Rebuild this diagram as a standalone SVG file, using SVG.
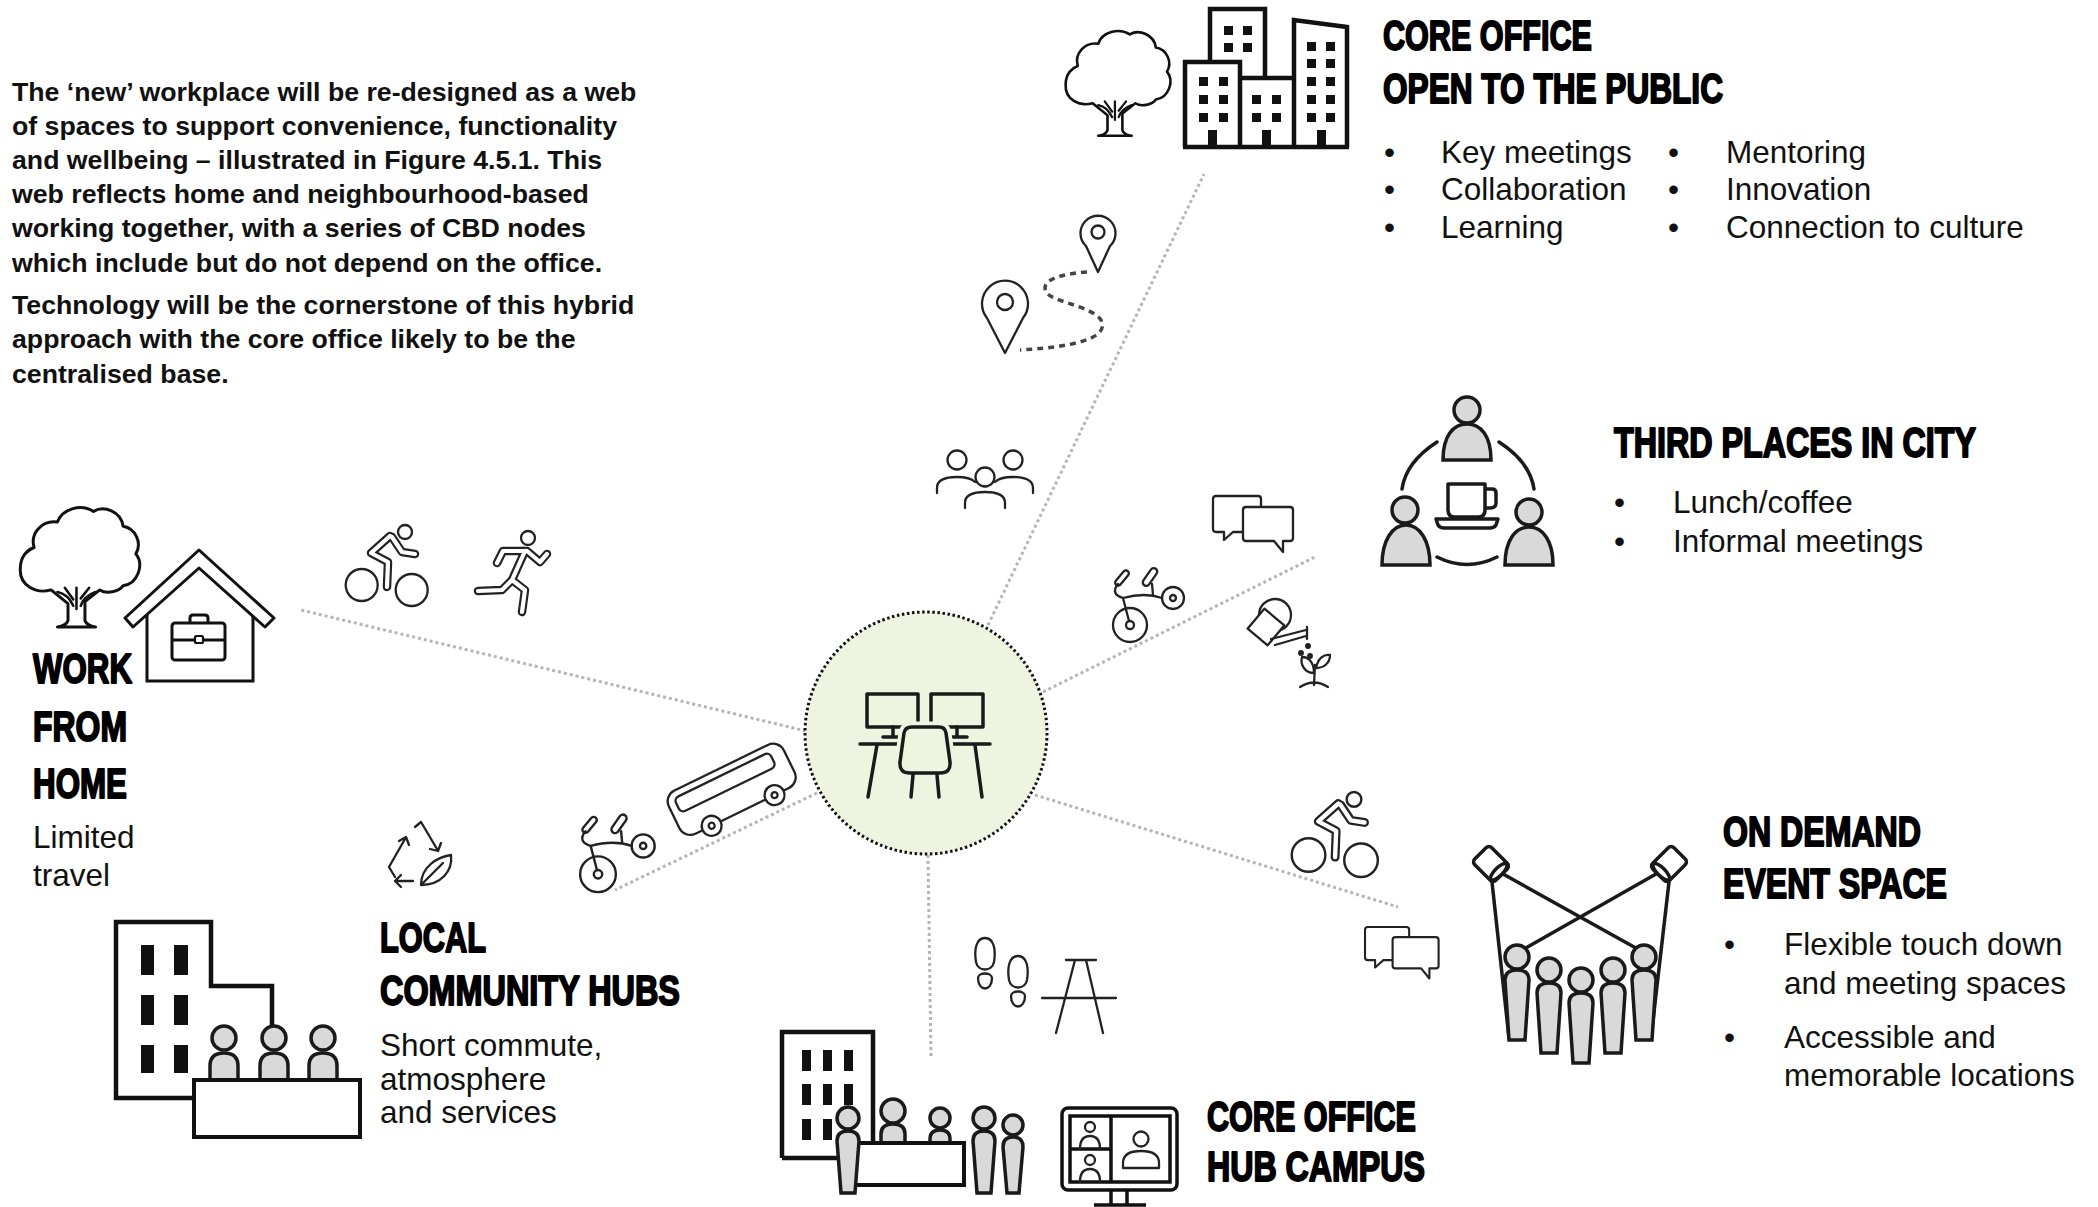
<svg xmlns="http://www.w3.org/2000/svg" width="2098" height="1207" viewBox="0 0 2098 1207">
  <style>
    .intro { font-family: "Liberation Sans", Arial, sans-serif; font-weight: bold; font-size: 26.7px; fill: #111; }
    .title { font-family: "Liberation Sans", Arial, sans-serif; font-weight: bold; font-size: 43px; fill: #000; stroke: #000; stroke-width: 2; stroke-linejoin: round; }
    .body { font-family: "Liberation Sans", Arial, sans-serif; font-size: 31.5px; fill: #111; }
    .ink { fill: none; stroke: #111; stroke-width: 4.5; stroke-linejoin: miter; }
    .blk { fill: #111; }
    .pers { fill: #d9d9d9; stroke: #1a1a1a; stroke-width: 3.5; }
    .line { fill: none; stroke: #1a1a1a; stroke-width: 3.5; stroke-linecap: round; stroke-linejoin: round; }
    .thin { fill: none; stroke: #222; stroke-width: 2.3; stroke-linecap: round; stroke-linejoin: round; }
    .thinw { fill: #fff; stroke: #222; stroke-width: 2.3; stroke-linecap: round; stroke-linejoin: round; }
    .olo { fill: none; stroke: #222; stroke-width: 8.5; stroke-linecap: round; stroke-linejoin: round; }
    .oli { fill: none; stroke: #fff; stroke-width: 4.2; stroke-linecap: round; stroke-linejoin: round; }
    .conn { fill: none; stroke: #b5b5b5; stroke-width: 3; stroke-dasharray: 3 3; }
  </style>
  <defs>
    <!-- leafy tree outline, 120 x 120 box -->
    <g id="tree">
      <path d="M34,82 C20,86 4,78 5,62 C5,50 12,44 18,42 C14,28 26,16 40,18 C44,6 62,0 74,8 C84,2 100,8 102,22 C114,24 120,38 114,48 C122,58 116,76 102,78 C98,84 86,86 80,82 L66,93 L66,111 Q68,116 76,117 L40,117 Q48,116 50,111 L50,95 Z" fill="#fff" stroke="#111" stroke-width="2.8" stroke-linejoin="round"/>
      <path d="M40,84 Q50,86 55,97 M76,84 Q65,88 62,97 M58,80 L58,100 M47,80 L55,91 M70,80 L62,90" fill="none" stroke="#111" stroke-width="2.4" stroke-linecap="round"/>
    </g>
    <!-- balance bike, origin at front wheel hub -->
    <g id="bike" class="thin">
      <circle cx="0" cy="25" r="17"/>
      <circle cx="0" cy="25" r="4"/>
      <circle cx="43" cy="-2" r="11"/>
      <circle cx="43" cy="-2" r="3"/>
      <rect x="-9" y="-3" width="18" height="6" rx="3" transform="translate(-8,-22) rotate(-50)"/>
      <rect x="-10" y="-3.5" width="20" height="7" rx="3.5" transform="translate(20,-23) rotate(-55)"/>
      <path d="M-12,-16 Q-20,-6 -7,-2 L-1,21 M-7,-2 Q15,-8 32,-2 M22,-16 L23,-5"/>
    </g>
    <!-- pair of speech bubbles -->
    <g id="chat">
      <path class="thinw" d="M3,0 H45 Q48,0 48,3 V33 Q48,36 45,36 H20 L11,44 V36 H3 Q0,36 0,33 V3 Q0,0 3,0 Z"/>
      <path class="thinw" d="M33,11 H77 Q80,11 80,14 V42 Q80,45 77,45 H70 V56 L61,45 H33 Q30,45 30,42 V14 Q30,11 33,11 Z"/>
    </g>
    <!-- cyclist, drawn as an outlined figure -->
    <g id="cyclist">
      <circle class="thin" cx="16.7" cy="60" r="16"/>
      <circle class="thin" cx="66.7" cy="65" r="16"/>
      <circle class="thin" cx="60" cy="7" r="7"/>
      <path class="olo" d="M45,11 L26,28 L43,37 L42,62 M47,12 L57,27 L70,29"/>
      <path class="oli" d="M45,11 L26,28 L43,37 L42,62 M47,12 L57,27 L70,29"/>
    </g>
  </defs>

  <rect width="2098" height="1207" fill="#fff"/>

  <!-- introduction paragraph -->
  <g id="intro-text">
    <text class="intro" x="12" y="101">The ‘new’ workplace will be re-designed as a web</text>
    <text class="intro" x="12" y="135">of spaces to support convenience, functionality</text>
    <text class="intro" x="12" y="169">and wellbeing – illustrated in Figure 4.5.1. This</text>
    <text class="intro" x="12" y="203">web reflects home and neighbourhood-based</text>
    <text class="intro" x="12" y="237">working together, with a series of CBD nodes</text>
    <text class="intro" x="12" y="272">which include but do not depend on the office.</text>
    <text class="intro" x="12" y="314">Technology will be the cornerstone of this hybrid</text>
    <text class="intro" x="12" y="348">approach with the core office likely to be the</text>
    <text class="intro" x="12" y="383">centralised base.</text>
  </g>

  <!-- dotted spokes from the workstation hub -->
  <g id="connectors">
    <path class="conn" d="M988,625 L1204,174"/>
    <path class="conn" d="M1043,692 L1315,557"/>
    <path class="conn" d="M806,731 L301,610"/>
    <path class="conn" d="M817,793 L615,890"/>
    <path class="conn" d="M928,855 L931,1058"/>
    <path class="conn" d="M1035,795 L1398,907"/>
  </g>

  <!-- central workstation hub -->
  <g id="node-workstation">
    <circle cx="926" cy="733" r="121" fill="#eff4e1" stroke="#111" stroke-width="3" stroke-dasharray="2.5 2.6"/>
    <g class="line">
      <rect x="867" y="694" width="51" height="33"/>
      <rect x="931" y="694" width="52" height="33"/>
      <path d="M893,727 V737 M883,737 H902 M957,727 V737 M947,737 H967"/>
      <path d="M860,744 H990 M877,745 L868,797 M975,745 L982,797"/>
      <path d="M912,727 L939,727 Q945,727 946,733 L950,762 Q951,773 940,773 L910,773 Q899,773 900,762 L904,733 Q905,727 912,727 Z" fill="#eff4e1" stroke="#eff4e1" stroke-width="11"/>
      <path d="M912,727 L939,727 Q945,727 946,733 L950,762 Q951,773 940,773 L910,773 Q899,773 900,762 L904,733 Q905,727 912,727 Z" fill="#eff4e1"/>
      <path d="M913,775 L911,797 M937,775 L939,797"/>
    </g>
  </g>

  <!-- core office open to the public -->
  <g id="node-core-office">
    <use href="#tree" transform="translate(1061,27) scale(0.93)"/>
    <path class="ink" d="M1210,62 V9 H1265 V78"/>
    <path class="ink" d="M1185,147 V62 H1240 V147"/>
    <path class="ink" d="M1240,78 H1294"/>
    <path class="ink" d="M1294,147 V20 L1347,27 V147"/>
    <path class="ink" d="M1183,147 H1349"/>
    <g class="blk">
      <rect x="1224" y="26" width="9" height="9"/><rect x="1243" y="26" width="9" height="9"/>
      <rect x="1224" y="43" width="9" height="9"/><rect x="1243" y="43" width="9" height="9"/>
      <rect x="1199" y="77" width="9" height="9"/><rect x="1219" y="77" width="9" height="9"/>
      <rect x="1199" y="95" width="9" height="9"/><rect x="1219" y="95" width="9" height="9"/>
      <rect x="1199" y="113" width="9" height="9"/><rect x="1219" y="113" width="9" height="9"/>
      <rect x="1252" y="95" width="9" height="9"/><rect x="1272" y="95" width="9" height="9"/>
      <rect x="1252" y="113" width="9" height="9"/><rect x="1272" y="113" width="9" height="9"/>
      <rect x="1307" y="42" width="9" height="9"/><rect x="1326" y="42" width="9" height="9"/>
      <rect x="1307" y="59" width="9" height="9"/><rect x="1326" y="59" width="9" height="9"/>
      <rect x="1307" y="77" width="9" height="9"/><rect x="1326" y="77" width="9" height="9"/>
      <rect x="1307" y="95" width="9" height="9"/><rect x="1326" y="95" width="9" height="9"/>
      <rect x="1307" y="113" width="9" height="9"/><rect x="1326" y="113" width="9" height="9"/>
      <rect x="1208" y="130" width="9" height="17"/>
      <rect x="1262" y="130" width="9" height="17"/>
      <rect x="1317" y="130" width="9" height="17"/>
    </g>
    <text class="title" transform="translate(1383,50) scale(0.65,1)" textLength="321.5" lengthAdjust="spacingAndGlyphs">CORE OFFICE</text>
    <text class="title" transform="translate(1383,103) scale(0.65,1)" textLength="523" lengthAdjust="spacingAndGlyphs">OPEN TO THE PUBLIC</text>
    <text class="body" x="1384" y="163">•</text>
    <text class="body" x="1441" y="163">Key meetings</text>
    <text class="body" x="1384" y="200">•</text>
    <text class="body" x="1441" y="200">Collaboration</text>
    <text class="body" x="1384" y="238">•</text>
    <text class="body" x="1441" y="238">Learning</text>
    <text class="body" x="1668" y="163">•</text>
    <text class="body" x="1726" y="163">Mentoring</text>
    <text class="body" x="1668" y="200">•</text>
    <text class="body" x="1726" y="200">Innovation</text>
    <text class="body" x="1668" y="238">•</text>
    <text class="body" x="1726" y="238">Connection to culture</text>
  </g>

  <!-- third places in city -->
  <g id="node-third-places">
    <path class="line" d="M1437,442 Q1406,462 1402,489 M1499,442 Q1530,462 1534,489 M1437,557 Q1467,572 1497,557"/>
    <circle class="pers" cx="1467" cy="410" r="13"/>
    <path class="pers" d="M1443,460 C1443,436 1453,424 1467,424 C1481,424 1491,436 1491,460 Z"/>
    <circle class="pers" cx="1405" cy="510" r="13"/>
    <path class="pers" d="M1382,565 C1382,541 1392,525 1406,525 C1420,525 1430,541 1430,565 Z"/>
    <circle class="pers" cx="1529" cy="512" r="13"/>
    <path class="pers" d="M1505,565 C1505,541 1515,527 1529,527 C1543,527 1553,541 1553,565 Z"/>
    <path class="line" d="M1448,484 L1448,510 Q1448,517 1455,517 L1478,517 Q1485,517 1485,510 L1485,484 Z M1485,489 L1492,489 Q1496,489 1496,493 L1496,503 Q1496,508 1490,508 L1485,508"/>
    <path class="line" d="M1436,519 L1498,519 L1496,525 Q1494,528 1490,528 L1444,528 Q1440,528 1438,525 Z"/>
    <text class="title" transform="translate(1614,457) scale(0.65,1)" textLength="557" lengthAdjust="spacingAndGlyphs">THIRD PLACES IN CITY</text>
    <text class="body" x="1614" y="513">•</text>
    <text class="body" x="1673" y="513">Lunch/coffee</text>
    <text class="body" x="1614" y="552">•</text>
    <text class="body" x="1673" y="552">Informal meetings</text>
  </g>

  <!-- work from home -->
  <g id="node-wfh">
    <use href="#tree" transform="translate(15,503) scale(1.06)"/>
    <path d="M125,618 L199,550 L274,618 L265,627 L199,568 L133,627 Z" fill="#fff" stroke="#111" stroke-width="3" stroke-linejoin="round"/>
    <path d="M147,615 V681 H253 V616" fill="none" stroke="#111" stroke-width="3"/>
    <rect x="172" y="623" width="53" height="37" rx="3" fill="none" stroke="#111" stroke-width="3"/>
    <path d="M172,640 H225 M190,623 V618 Q190,615 193,615 H205 Q208,615 208,618 V623" fill="none" stroke="#111" stroke-width="3"/>
    <rect x="195" y="636" width="8" height="7" rx="1.5" fill="#fff" stroke="#111" stroke-width="2.2"/>
    <text class="title" transform="translate(33,683) scale(0.65,1)" textLength="152.3" lengthAdjust="spacingAndGlyphs">WORK</text>
    <text class="title" transform="translate(33,741) scale(0.65,1)" textLength="144.6" lengthAdjust="spacingAndGlyphs">FROM</text>
    <text class="title" transform="translate(33,798) scale(0.65,1)" textLength="144.6" lengthAdjust="spacingAndGlyphs">HOME</text>
    <text class="body" x="33" y="848">Limited</text>
    <text class="body" x="33" y="886">travel</text>
  </g>

  <!-- local community hubs -->
  <g id="node-local-hubs">
    <path class="ink" d="M194,1098 H116 V922 H211 V986 H272 V1027"/>
    <g class="blk">
      <rect x="141" y="945" width="13" height="30"/><rect x="174" y="945" width="14" height="30"/>
      <rect x="141" y="995" width="13" height="30"/><rect x="174" y="995" width="14" height="30"/>
      <rect x="141" y="1045" width="13" height="28"/><rect x="174" y="1045" width="14" height="28"/>
    </g>
    <circle class="pers" cx="224" cy="1038" r="12"/>
    <path class="pers" d="M210,1080 L210,1066 Q210,1053 224,1053 Q238,1053 238,1066 L238,1080 Z"/>
    <circle class="pers" cx="274" cy="1038" r="12"/>
    <path class="pers" d="M260,1080 L260,1066 Q260,1053 274,1053 Q288,1053 288,1066 L288,1080 Z"/>
    <circle class="pers" cx="323" cy="1038" r="12"/>
    <path class="pers" d="M309,1080 L309,1066 Q309,1053 323,1053 Q337,1053 337,1066 L337,1080 Z"/>
    <rect x="194" y="1080" width="166" height="57" fill="#fff" stroke="#111" stroke-width="4"/>
    <text class="title" transform="translate(380,952) scale(0.65,1)" textLength="163" lengthAdjust="spacingAndGlyphs">LOCAL</text>
    <text class="title" transform="translate(380,1005) scale(0.65,1)" textLength="461.5" lengthAdjust="spacingAndGlyphs">COMMUNITY HUBS</text>
    <text class="body" x="380" y="1056">Short commute,</text>
    <text class="body" x="380" y="1090">atmosphere</text>
    <text class="body" x="380" y="1123">and services</text>
  </g>

  <!-- core office hub campus -->
  <g id="node-hub-campus">
    <path class="ink" d="M782,1158 V1032 H873 V1143"/>
    <path class="ink" d="M782,1158 H838"/>
    <g class="blk">
      <rect x="802" y="1050" width="9" height="21"/><rect x="823" y="1050" width="9" height="21"/><rect x="844" y="1050" width="9" height="21"/>
      <rect x="802" y="1084" width="9" height="21"/><rect x="823" y="1084" width="9" height="21"/><rect x="844" y="1084" width="9" height="21"/>
      <rect x="802" y="1119" width="9" height="21"/><rect x="823" y="1119" width="9" height="21"/>
    </g>
    <circle class="pers" cx="893" cy="1111" r="12"/>
    <path class="pers" d="M881,1143 L881,1134 Q881,1124 893,1124 Q905,1124 905,1134 L905,1143 Z"/>
    <circle class="pers" cx="940" cy="1118" r="10"/>
    <path class="pers" d="M930,1143 L930,1139 Q930,1130 940,1130 Q950,1130 950,1139 L950,1143 Z"/>
    <rect x="855" y="1143" width="109" height="42" fill="#fff" stroke="#111" stroke-width="4"/>
    <circle class="pers" cx="848" cy="1118" r="11"/>
    <path class="pers" d="M837,1141 Q837,1131 848,1131 Q859,1131 859,1141 L855,1193 L841,1193 Z"/>
    <circle class="pers" cx="984" cy="1118" r="11"/>
    <path class="pers" d="M973,1141 Q973,1131 984,1131 Q995,1131 995,1141 L991,1193 L977,1193 Z"/>
    <circle class="pers" cx="1013" cy="1125" r="10"/>
    <path class="pers" d="M1003,1147 Q1003,1137 1013,1137 Q1023,1137 1023,1147 L1019,1193 L1007,1193 Z"/>
    <rect x="1062" y="1108" width="115" height="82" rx="6" fill="#fff" stroke="#111" stroke-width="3.5"/>
    <rect x="1070" y="1116" width="100" height="66" fill="none" stroke="#111" stroke-width="3.5"/>
    <path d="M1111,1116 V1182 M1070,1149 H1111 M1111,1190 V1205 M1127,1190 V1205 M1094,1205 H1146" fill="none" stroke="#111" stroke-width="3.5"/>
    <g class="thin" stroke-width="2.6">
      <circle cx="1090" cy="1127" r="5"/>
      <path d="M1080,1149 Q1080,1136 1090,1136 Q1100,1136 1100,1149"/>
      <circle cx="1090" cy="1160" r="5"/>
      <path d="M1080,1182 Q1080,1169 1090,1169 Q1100,1169 1100,1182"/>
      <circle cx="1141" cy="1139" r="7.5"/>
      <path d="M1123,1168 L1123,1163 Q1123,1151 1141,1151 Q1159,1151 1159,1163 L1159,1168 Z"/>
    </g>
    <text class="title" transform="translate(1207,1131) scale(0.65,1)" textLength="321.5" lengthAdjust="spacingAndGlyphs">CORE OFFICE</text>
    <text class="title" transform="translate(1207,1181) scale(0.65,1)" textLength="335.4" lengthAdjust="spacingAndGlyphs">HUB CAMPUS</text>
  </g>

  <!-- on demand event space -->
  <g id="node-event-space">
    <path class="line" d="M1503,874 L1643,952 M1492,882 L1509,1038 M1656,874 L1517,953 M1669,882 L1651,1038"/>
    <g transform="translate(1491,864) rotate(45)" class="line">
      <rect x="-15" y="-12" width="30" height="24" rx="4" fill="#fff"/>
      <ellipse cx="11" cy="0" rx="4" ry="11" fill="#fff"/>
    </g>
    <g transform="translate(1669,864) rotate(135)" class="line">
      <rect x="-15" y="-12" width="30" height="24" rx="4" fill="#fff"/>
      <ellipse cx="11" cy="0" rx="4" ry="11" fill="#fff"/>
    </g>
    <circle class="pers" cx="1517" cy="957" r="12"/>
    <path class="pers" d="M1505,980 Q1505,970 1517,970 Q1529,970 1529,980 L1525,1040 L1509,1040 Z"/>
    <circle class="pers" cx="1549" cy="970" r="12"/>
    <path class="pers" d="M1537,993 Q1537,983 1549,983 Q1561,983 1561,993 L1557,1053 L1541,1053 Z"/>
    <circle class="pers" cx="1581" cy="980" r="12"/>
    <path class="pers" d="M1569,1003 Q1569,993 1581,993 Q1593,993 1593,1003 L1589,1063 L1573,1063 Z"/>
    <circle class="pers" cx="1613" cy="970" r="12"/>
    <path class="pers" d="M1601,993 Q1601,983 1613,983 Q1625,983 1625,993 L1621,1053 L1605,1053 Z"/>
    <circle class="pers" cx="1644" cy="957" r="12"/>
    <path class="pers" d="M1632,980 Q1632,970 1644,970 Q1656,970 1656,980 L1652,1040 L1636,1040 Z"/>
    <text class="title" transform="translate(1723,846) scale(0.65,1)" textLength="304.6" lengthAdjust="spacingAndGlyphs">ON DEMAND</text>
    <text class="title" transform="translate(1723,898) scale(0.65,1)" textLength="344.6" lengthAdjust="spacingAndGlyphs">EVENT SPACE</text>
    <text class="body" x="1724" y="955">•</text>
    <text class="body" x="1784" y="955">Flexible touch down</text>
    <text class="body" x="1784" y="994">and meeting spaces</text>
    <text class="body" x="1724" y="1048">•</text>
    <text class="body" x="1784" y="1048">Accessible and</text>
    <text class="body" x="1784" y="1086">memorable locations</text>
  </g>

  <!-- small travel and activity pictograms along the spokes -->
  <g id="travel-icons">
    <!-- route between two map pins -->
    <path d="M1087,272 C1060,274 1040,280 1046,292 C1052,302 1092,306 1101,320 C1108,334 1090,346 1020,350" fill="none" stroke="#444" stroke-width="3.5" stroke-dasharray="6 5"/>
    <path class="thin" d="M1098,272 L1086,246 A17.5,17.5 0 1 1 1110,246 Z"/>
    <circle class="thin" cx="1098" cy="232" r="6.5"/>
    <path class="thin" d="M1005,353 L987,318 A23,23 0 1 1 1023,318 Z"/>
    <circle class="thin" cx="1005" cy="302" r="8"/>
    <!-- group of three people -->
    <g class="thin">
      <circle cx="957" cy="460" r="9.5"/>
      <circle cx="1013" cy="460" r="9.5"/>
      <path d="M937,493 L937,488 Q937,477 957,477 Q970,477 975,482 M1033,493 L1033,488 Q1033,477 1013,477 Q1000,477 995,482"/>
      <circle cx="985" cy="477" r="9.5" fill="#fff"/>
      <path d="M965,508 L965,503 Q965,492 985,492 Q1005,492 1005,503 L1005,508"/>
    </g>
    <!-- conversation near the third-places spoke -->
    <use href="#chat" transform="translate(1213,496)"/>
    <!-- bike -->
    <use href="#bike" transform="translate(1130,600)"/>
    <!-- watering can and seedling -->
    <g class="thin">
      <circle cx="1275" cy="615" r="16"/>
      <rect x="-13" y="-13" width="26" height="26" fill="#fff" transform="translate(1266,627) rotate(40)"/>
      <path d="M1271,639 L1306,630 M1275,645 L1306,636 M1307,627 V639"/>
      <circle cx="1301" cy="653" r="1.8" fill="#222"/>
      <circle cx="1308" cy="646" r="1.8" fill="#222"/>
      <circle cx="1310" cy="656" r="1.8" fill="#222"/>
      <path d="M1314,685 L1315,665 M1314,673 C1305,673 1300,665 1302,657 C1310,657 1314,664 1314,673 Z M1316,668 C1318,658 1324,654 1330,655 C1330,663 1324,668 1316,668 Z M1300,687 Q1314,678 1328,687"/>
    </g>
    <!-- cyclist and runner on the home spoke -->
    <use href="#cyclist" transform="translate(345,525)"/>
    <circle class="thin" cx="528" cy="538" r="7"/>
    <path class="olo" d="M525,551 L512,580 L502,590 L478,591 M512,580 L525,590 L522,612 M527,551 L540,562 L547,554 M524,551 L503,551 L497,563"/>
    <path class="oli" d="M525,551 L512,580 L502,590 L478,591 M512,580 L525,590 L522,612 M527,551 L540,562 L547,554 M524,551 L503,551 L497,563"/>
    <!-- bus -->
    <g transform="translate(733,792) rotate(-26)" class="thinw">
      <rect x="-64" y="-27" width="128" height="48" rx="12"/>
      <rect x="-56" y="-20" width="106" height="16" rx="5" fill="none"/>
      <circle cx="-34" cy="21" r="10"/>
      <circle cx="36" cy="21" r="10"/>
      <circle cx="-34" cy="21" r="3"/>
      <circle cx="36" cy="21" r="3"/>
    </g>
    <!-- bike on the community spoke -->
    <use href="#bike" transform="translate(598,848) scale(1.05)"/>
    <!-- recycling arrows with leaf -->
    <g class="thin" transform="translate(385,819)">
      <path d="M10,58 L4,48 L20,20 M14,22 L21,18 L24,26"/>
      <path d="M30,8 L36,3 L52,30 M45,30 L53,32 L56,24"/>
      <path d="M28,62 H10 M16,56 L10,62 L16,68"/>
      <path d="M36,66 C36,48 52,38 66,36 C68,52 56,66 36,66 Z M36,66 L58,44"/>
    </g>
    <!-- footprints -->
    <g class="thin">
      <path d="M985,938 C994,938 996,950 994,962 C992,972 978,972 976,962 C974,950 976,938 985,938 Z"/>
      <path d="M978,978 C978,972 992,972 992,978 C992,992 978,992 978,978 Z"/>
      <path d="M1018,956 C1027,956 1029,968 1027,980 C1025,990 1011,990 1009,980 C1007,968 1009,956 1018,956 Z"/>
      <path d="M1011,996 C1011,990 1025,990 1025,996 C1025,1010 1011,1010 1011,996 Z"/>
    </g>
    <!-- picnic table -->
    <path class="thin" d="M1066,960 H1096 M1075,960 L1056,1033 M1086,960 L1103,1033 M1042,998 H1116"/>
    <!-- cyclist and conversation on the event spoke -->
    <use href="#cyclist" transform="translate(1291,792) scale(1.05)"/>
    <use href="#chat" transform="translate(1365,927) scale(0.92)"/>
  </g>
</svg>
